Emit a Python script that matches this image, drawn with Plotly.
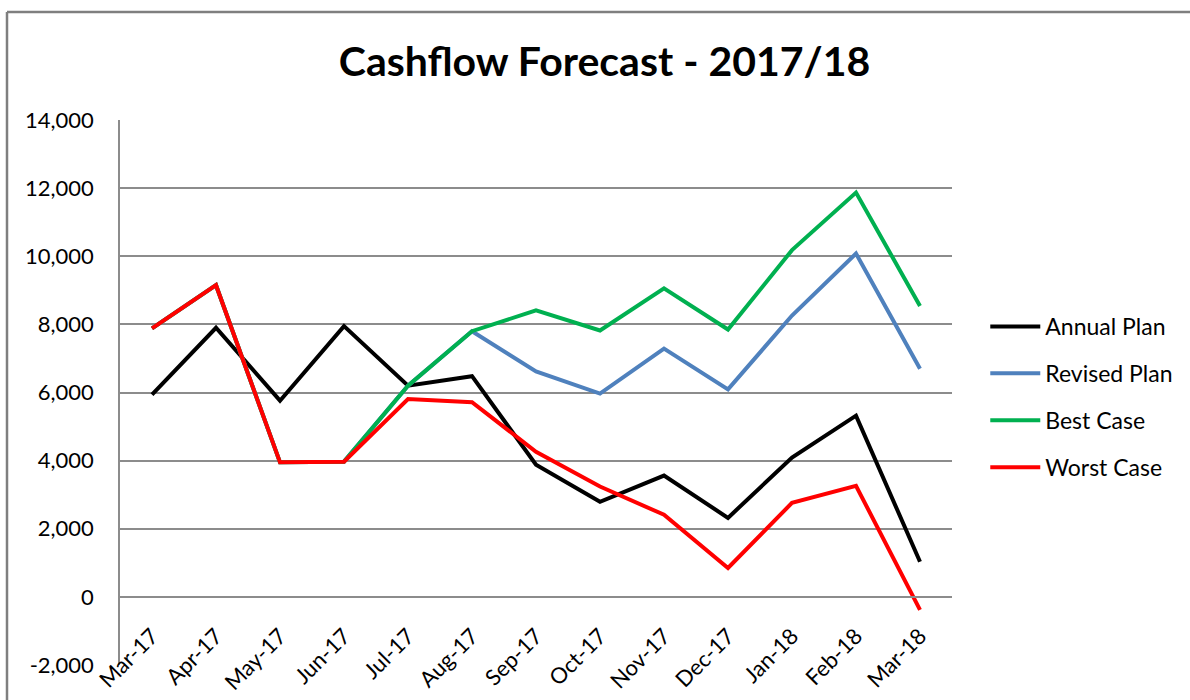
import plotly.graph_objects as go

months = ["Mar-17", "Apr-17", "May-17", "Jun-17", "Jul-17", "Aug-17", "Sep-17",
          "Oct-17", "Nov-17", "Dec-17", "Jan-18", "Feb-18", "Mar-18"]

annual_plan = [5940, 7900, 5760, 7950, 6200, 6480, 3880, 2790, 3560, 2320, 4090, 5320, 1030]
revised_plan = [7880, 9150, 3950, 3970, 6200, 7800, 6620, 5970, 7290, 6090, 8260, 10080, 6700]
best_case = [7880, 9150, 3950, 3970, 6200, 7800, 8410, 7820, 9060, 7850, 10180, 11870, 8540]
worst_case = [7880, 9150, 3950, 3970, 5810, 5715, 4260, 3240, 2410, 850, 2760, 3260, -380]

y_ticks = [-2000, 0, 2000, 4000, 6000, 8000, 10000, 12000, 14000]
y_tick_text = [f"{v:,}" for v in y_ticks]

series = [
    ("Annual Plan", annual_plan, "#000000"),
    ("Revised Plan", revised_plan, "#4F81BD"),
    ("Best Case", best_case, "#00B050"),
    ("Worst Case", worst_case, "#FF0000"),
]

fig = go.Figure()
for i, (name, values, color) in enumerate(series):
    fig.add_trace(go.Scatter(
        x=months, y=values, name=name, mode="lines",
        line=dict(color=color, width=4),
        legendgroup=f"g{i}",
    ))

grid = "#8c8c8c"
base_font = "Lato, Open Sans, sans-serif"
fig.update_layout(
    width=1190, height=700,
    margin=dict(l=120, r=238, t=120, b=35),
    paper_bgcolor="white", plot_bgcolor="white",
    font=dict(family=base_font, size=22, color="#000000"),
    title=dict(
        text="<b>Cashflow Forecast - 2017/18</b>",
        font=dict(family=base_font, size=41, color="#000000"),
        xref="container", x=0.508, xanchor="center",
        yref="container", y=1 - 62 / 700, yanchor="middle",
    ),
    xaxis=dict(
        type="category", range=[-0.5, 12.5],
        anchor="free", position=2000 / 16000,
        showline=True, linecolor=grid, linewidth=1.5,
        showgrid=False, zeroline=False, automargin=False,
        tickangle=-45, ticks="", ticklabelstandoff=17,
        tickfont=dict(size=22),
    ),
    yaxis=dict(
        range=[-2000, 14000],
        tickvals=y_ticks, ticktext=y_tick_text,
        showgrid=True, gridcolor=grid, gridwidth=1.5,
        zeroline=False, automargin=False,
        showline=True, linecolor=grid, linewidth=1.5,
        ticks="", ticklabelstandoff=20,
    ),
    legend=dict(
        x=1.04, xanchor="left", y=0.4917, yanchor="middle",
        font=dict(family=base_font, size=23, color="#000000"),
        tracegroupgap=14, itemwidth=50,
        bgcolor="rgba(0,0,0,0)",
    ),
    showlegend=True,
)

# Chart-area frame along the top and left edges
x_left = (7 - 120) / 832
y_top = (665 - 12) / 545
fig.add_shape(type="line", xref="paper", yref="paper",
              x0=x_left, x1=1.5, y0=y_top, y1=y_top,
              line=dict(color="#7f7f7f", width=2.5))
fig.add_shape(type="line", xref="paper", yref="paper",
              x0=x_left, x1=x_left, y0=y_top, y1=-0.2,
              line=dict(color="#7f7f7f", width=2.5))

fig.write_html("out.html")
